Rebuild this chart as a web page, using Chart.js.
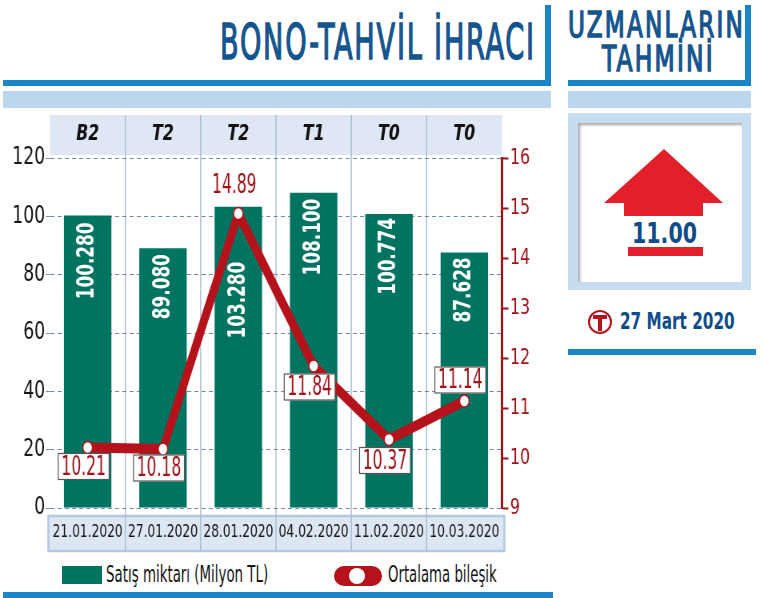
<!DOCTYPE html>
<html lang="tr">
<head>
<meta charset="utf-8">
<title>Bono-Tahvil İhracı</title>
<script src="https://cdn.jsdelivr.net/npm/chart.js@4.4.1/dist/chart.umd.min.js"></script>
<style>
  body { margin: 0; }
  #page {
    position: relative; width: 764px; height: 598px; overflow: hidden; background: #fff;
    font-family: 'DejaVu Sans Condensed', 'Liberation Sans', sans-serif;
  }
  .blk { position: absolute; }
  .fit { position: absolute; white-space: nowrap; line-height: 1; transform-origin: 0 0; }
  .head { color: #15558f; letter-spacing: 3px; -webkit-text-stroke: 1.4px #15558f; }
  .blue { background: #1b86c6; }
  .pale { background: #bcd6ee; }
  /* the print font is very narrow: draw the chart wider and squeeze it */
  #chartBox { position: absolute; left: 0; top: 110px; width: 700px; height: 450px; transform: scaleX(0.8); transform-origin: 0 0; }
  #deco { position: absolute; left: 0; top: 0; pointer-events: none; }
</style>
</head>
<body>
<div id="page">
  <!-- title block -->
  <div class="fit head" data-x="220" data-cap="23" data-h="36" data-w="316">BONO-TAHVİL İHRACI</div>
  <div class="blk blue" style="left:545px; top:5px; width:6px; height:81px"></div>
  <div class="blk blue" style="left:3px; top:80px; width:548px; height:6px"></div>
  <div class="blk pale" style="left:3px; top:91px; width:548px; height:17px"></div>

  <!-- forecast panel -->
  <div class="fit head" data-x="568" data-cap="13" data-h="25" data-w="177">UZMANLARIN</div>
  <div class="fit head" data-x="602" data-cap="47" data-h="25" data-w="113">TAHMİNİ</div>
  <div class="blk blue" style="left:745px; top:5px; width:6px; height:81px"></div>
  <div class="blk blue" style="left:568px; top:80px; width:183px; height:6px"></div>
  <div class="blk pale" style="left:568px; top:91px; width:183px; height:17px"></div>
  <div class="blk" style="left:568px; top:113px; width:183px; height:177px; background:#c6dcf1"></div>
  <div class="blk" style="left:578px; top:123px; width:164px; height:159px; background:#fff; box-shadow: inset 2px 2px 3px rgba(0,0,0,.35)"></div>
  <div class="fit" style="color:#0f4c8a; font-weight:bold" data-x="632" data-cap="223" data-h="21" data-w="65">11.00</div>
  <div class="fit" style="color:#0f4c8a; font-weight:bold" data-x="620" data-cap="313" data-h="17" data-w="115">27 Mart 2020</div>
  <div class="blk blue" style="left:568px; top:349px; width:188px; height:6px"></div>

  <!-- chart -->
  <div id="chartBox"><canvas id="bond-chart"></canvas></div>

  <!-- legend -->
  <div class="blk" style="left:62px; top:566px; width:40px; height:18px; background:#007461"></div>
  <div class="fit" style="color:#151515" data-x="106" data-cap="566" data-h="16" data-w="162">Satış miktarı (Milyon TL)</div>
  <div class="blk" style="left:334px; top:566px; width:48px; height:20px; border-radius:10px; background:#b5121b"></div>
  <div class="blk" style="left:349px; top:568px; width:16px; height:16px; border-radius:8px; background:#fff"></div>
  <div class="fit" style="color:#151515" data-x="388" data-cap="566" data-h="16" data-w="109">Ortalama bileşik</div>
  <div class="blk blue" style="left:3px; top:592px; width:550px; height:6px"></div>

  <svg id="deco" width="764" height="598">
    <polygon points="664,149 723,203 703,203 703,216 624,216 624,203 604,203" fill="#e3202a"/>
    <rect x="628" y="247" width="75" height="9" fill="#e3202a"/>
    <circle cx="600" cy="322" r="11" fill="#fff" stroke="#b5121b" stroke-width="2"/>
    <path d="M593 315 H607 V319 H602 V331 H598 V319 H593 Z" fill="#b5121b"/>
  </svg>
</div>

<script>
const dates = ['21.01.2020', '27.01.2020', '28.01.2020', '04.02.2020', '11.02.2020', '10.03.2020'];
const bondCodes = ['B2', 'T2', 'T2', 'T1', 'T0', 'T0'];
const salesAmounts = [100.28, 89.08, 103.28, 108.1, 100.774, 87.628];
const averageRates = [10.21, 10.18, 14.89, 11.84, 10.37, 11.14];
const salesTicks = [0, 20, 40, 60, 80, 100, 120];
const rateTicks = [9, 10, 11, 12, 13, 14, 15, 16];

const FONT = "'DejaVu Sans Condensed', 'Liberation Sans', sans-serif";
const SQUEEZE = 0.8;
const TEAL = '#007461';
const RED = '#b5121b';
const DARK_RED = '#a3121a';
const GRID = '#6f88a8';

// squeeze the html headings into the box they take in the print layout
function fitTexts() {
    document.querySelectorAll('.fit').forEach((el) => {
        const size = Number(el.dataset.h) / 0.72;
        el.style.fontSize = size + 'px';
        el.style.left = el.dataset.x + 'px';
        el.style.top = (Number(el.dataset.cap) - 0.13 * size) + 'px';
        const scale = Number(el.dataset.w) / el.offsetWidth;
        el.style.transform = 'scaleX(' + scale + ')';
    });
}

function ticksFrom(list) {
    return (scale) => {
        scale.ticks = list.map((value) => ({ value }));
    };
}

const bandsPlugin = {
    id: 'bands',
    beforeDraw(chart) {
        const { ctx, chartArea: a, scales } = chart;
        const n = scales.x.ticks.length;
        const step = (a.right - a.left) / n;

        ctx.save();
        ctx.fillStyle = '#dfe7f4';
        ctx.fillRect(a.left, a.top - 43, a.right - a.left, 40);

        ctx.fillStyle = '#dde7f3';
        ctx.fillRect(a.left - 2, a.bottom + 8, a.right - a.left + 5, 35);
        ctx.strokeStyle = '#b3c8e1';
        ctx.lineWidth = 2.5;
        ctx.strokeRect(a.left - 2, a.bottom + 8, a.right - a.left + 5, 35);

        ctx.strokeStyle = '#a4b7cf';
        ctx.lineWidth = 1.3;
        for (let i = 1; i < n; i++) {
            const px = a.left + i * step;
            ctx.beginPath();
            ctx.moveTo(px, a.top - 43);
            ctx.lineTo(px, a.bottom + 43);
            ctx.stroke();
        }
        ctx.restore();
    },
};

const valueLabelsPlugin = {
    id: 'valueLabels',
    afterDatasetDraw(chart, args, opts) {
        if (args.meta.type !== 'bar') {
            return;
        }
        const { ctx } = chart;
        ctx.save();
        ctx.fillStyle = '#fff';
        ctx.font = 'bold 24px ' + FONT;
        ctx.textAlign = 'right';
        ctx.textBaseline = 'middle';
        args.meta.data.forEach((bar, i) => {
            ctx.save();
            ctx.translate(bar.x, bar.y + opts.barOffsets[i]);
            ctx.scale(1 / SQUEEZE, 1);
            ctx.rotate(-Math.PI / 2);
            ctx.scale(0.78, 1);
            ctx.fillText(salesAmounts[i].toFixed(3), 0, 0);
            ctx.restore();
        });
        ctx.restore();
    },
    afterDatasetsDraw(chart, args, opts) {
        const { ctx } = chart;
        const meta = chart.getDatasetMeta(0);
        ctx.save();
        ctx.font = '27px ' + FONT;
        ctx.textBaseline = 'middle';
        ctx.textAlign = 'center';
        meta.data.forEach((pt, i) => {
            const text = averageRates[i].toFixed(2);
            const cx = pt.x - 5;
            const cy = pt.y + opts.offsets[i];
            const w = ctx.measureText(text).width * 0.8 + 8;
            const h = 27;
            if (opts.boxed[i]) {
                ctx.fillStyle = '#fff';
                ctx.fillRect(cx - w / 2, cy - h / 2, w, h);
                ctx.strokeStyle = '#555';
                ctx.lineWidth = 1.2;
                ctx.strokeRect(cx - w / 2, cy - h / 2 + 0.5, w, h - 1);
            }
            ctx.fillStyle = DARK_RED;
            ctx.save();
            ctx.translate(cx, cy + 1);
            ctx.scale(0.8, 1);
            ctx.fillText(text, 0, 0);
            ctx.restore();
        });
        ctx.restore();
    },
};

function createBondChart(canvas) {
    return new Chart(canvas, {
        type: 'bar',
        data: {
            labels: dates,
            datasets: [
                {
                    type: 'line',
                    label: 'Ortalama bileşik',
                    data: averageRates,
                    yAxisID: 'y1',
                    order: 0,
                    borderColor: RED,
                    borderWidth: 10,
                    borderJoinStyle: 'round',
                    borderCapStyle: 'round',
                    tension: 0,
                    pointRadius: 6,
                    pointBorderWidth: 1.5,
                    pointBorderColor: RED,
                    pointBackgroundColor: '#fff',
                    fill: false,
                },
                {
                    type: 'bar',
                    label: 'Satış miktarı (Milyon TL)',
                    data: salesAmounts,
                    yAxisID: 'y',
                    order: 1,
                    backgroundColor: TEAL,
                    categoryPercentage: 1,
                    barPercentage: 0.63,
                },
            ],
        },
        options: {
            responsive: true,
            maintainAspectRatio: false,
            animation: false,
            layout: { padding: 0 },
            plugins: {
                legend: { display: false },
                tooltip: { enabled: false },
                valueLabels: {
                    barOffsets: [7, 6, 55, 6, 4, 5],
                    offsets: [19, 19, -29, 21, 21, -21],
                    boxed: [true, true, false, true, true, true],
                },
            },
            scales: {
                x: {
                    position: 'bottom',
                    offset: true,
                    grid: { display: false, drawTicks: false },
                    border: { display: false },
                    ticks: {
                        color: '#161616',
                        padding: 14,
                        maxRotation: 0,
                        autoSkip: false,
                        font: { family: FONT, size: 17 },
                    },
                    afterFit(scale) {
                        scale.height = 52;
                    },
                },
                xTop: {
                    type: 'category',
                    position: 'top',
                    labels: bondCodes,
                    offset: true,
                    grid: { display: false, drawTicks: false },
                    border: { display: false },
                    ticks: {
                        color: '#111',
                        padding: 11,
                        maxRotation: 0,
                        autoSkip: false,
                        font: { family: FONT, size: 22, weight: 'bold', style: 'italic' },
                    },
                    afterFit(scale) {
                        scale.height = 48;
                    },
                },
                y: {
                    position: 'left',
                    min: salesTicks[0],
                    max: salesTicks[salesTicks.length - 1],
                    afterBuildTicks: ticksFrom(salesTicks),
                    grid: {
                        color: GRID,
                        lineWidth: 1,
                        tickLength: 5,
                        tickColor: GRID,
                        tickBorderDash: [5, 4],
                    },
                    border: { display: false, dash: [5, 4] },
                    ticks: {
                        color: '#151515',
                        padding: 1,
                        font: { family: FONT, size: 24 },
                    },
                    afterFit(scale) {
                        scale.width = 50 / SQUEEZE;
                    },
                },
                y1: {
                    position: 'right',
                    min: rateTicks[0],
                    max: rateTicks[rateTicks.length - 1],
                    afterBuildTicks: ticksFrom(rateTicks),
                    grid: {
                        drawOnChartArea: false,
                        tickLength: 8,
                        tickWidth: 2,
                        tickColor: DARK_RED,
                    },
                    border: { display: true, color: DARK_RED, width: 3 },
                    ticks: {
                        color: DARK_RED,
                        padding: 2,
                        font: { family: FONT, size: 22 },
                    },
                    afterFit(scale) {
                        scale.width = 700 - 502 / SQUEEZE;
                    },
                },
            },
        },
        plugins: [bandsPlugin, valueLabelsPlugin],
    });
}

function initPage() {
    fitTexts();
    const canvas = document.getElementById('bond-chart');
    if (canvas) {
        createBondChart(canvas);
    }
}

document.addEventListener('DOMContentLoaded', initPage);
</script>
</body>
</html>
